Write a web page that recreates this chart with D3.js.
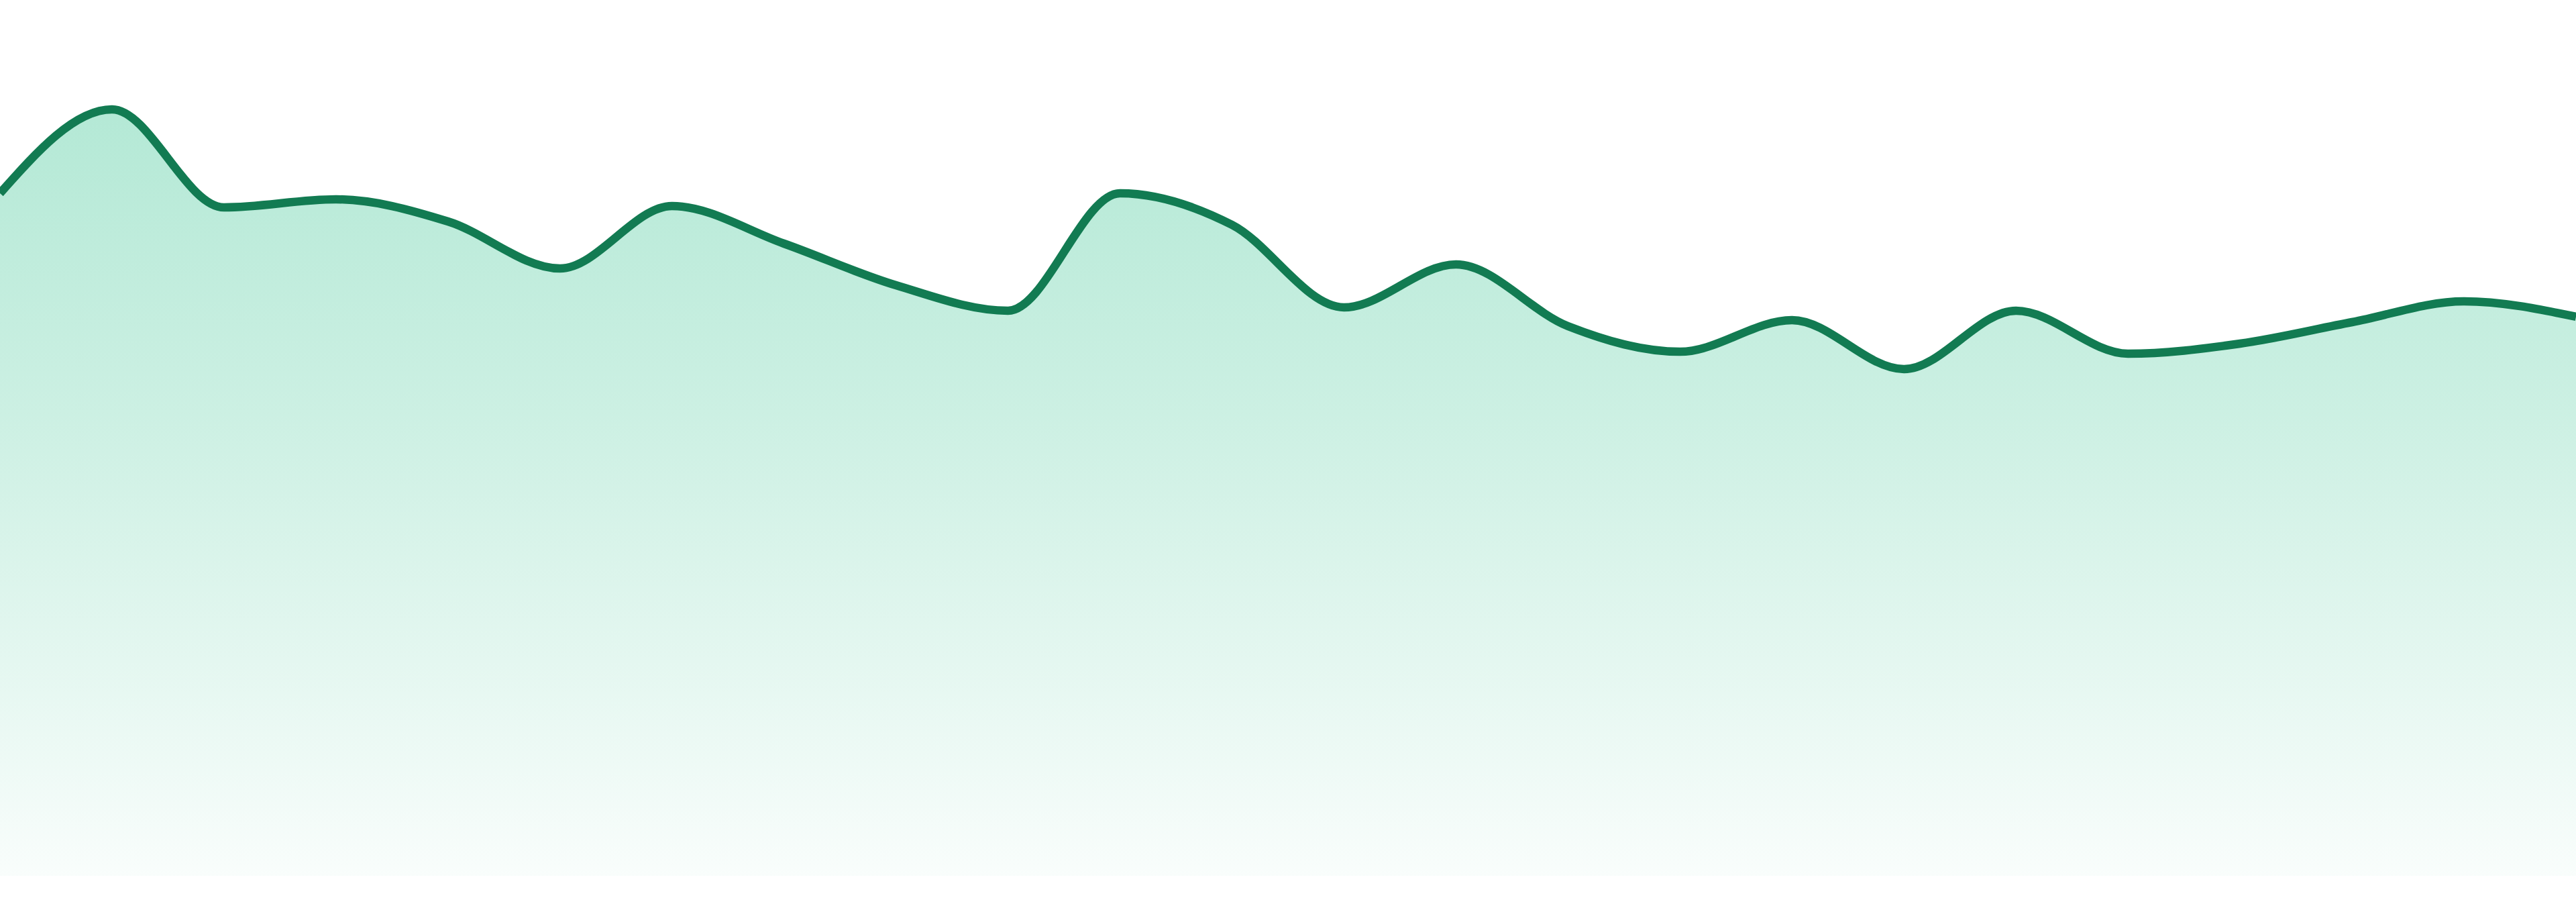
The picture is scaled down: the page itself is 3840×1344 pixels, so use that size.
<!DOCTYPE html>
<html>
<head>
<meta charset="utf-8">
<script src="https://cdn.jsdelivr.net/npm/d3@7"></script>
<style>
  html, body { margin: 0; padding: 0; background: #ffffff; }
  svg { display: block; }
</style>
</head>
<body>
<div id="chart"></div>
<script>
// Datos de la serie (24 puntos, sin ejes visibles)
const categories = d3.range(24);
const values = [
  101.7, 114.2, 99.6, 100.8, 97.5, 90.5, 99.8, 94.2, 88.0, 84.2, 101.7, 97.0,
  84.7, 91.1, 81.9, 78.1, 82.8, 75.5, 84.2, 77.8, 79.3, 82.5, 85.6, 83.3
];

const width = 3840;
const height = 1344;
const baseline = 1305;

const svg = d3.select('#chart').append('svg')
  .attr('width', width)
  .attr('height', height);

const x = d3.scaleLinear()
  .domain([0, categories.length - 1])
  .range([0, width]);

const y = d3.scaleLinear()
  .domain([0, 130.5])
  .range([baseline, 0]);

const data = categories.map((c, i) => ({ c, v: values[i] }));

// Degradado vertical del relleno
const grad = svg.append('defs').append('linearGradient')
  .attr('id', 'areaFill')
  .attr('gradientUnits', 'userSpaceOnUse')
  .attr('x1', 0).attr('x2', 0)
  .attr('y1', y(d3.max(values)))
  .attr('y2', baseline);
grad.append('stop').attr('offset', '0%').attr('stop-color', '#34c38f').attr('stop-opacity', 0.37);
grad.append('stop').attr('offset', '40%').attr('stop-color', '#34c38f').attr('stop-opacity', 0.25);
grad.append('stop').attr('offset', '100%').attr('stop-color', '#34c38f').attr('stop-opacity', 0.03);

const area = d3.area()
  .x(d => x(d.c))
  .y0(baseline)
  .y1(d => y(d.v))
  .curve(d3.curveMonotoneX);

const line = d3.line()
  .x(d => x(d.c))
  .y(d => y(d.v))
  .curve(d3.curveMonotoneX);

svg.append('path')
  .datum(data)
  .attr('d', area)
  .attr('fill', 'url(#areaFill)');

svg.append('path')
  .datum(data)
  .attr('d', line)
  .attr('fill', 'none')
  .attr('stroke', '#127b52')
  .attr('stroke-width', 12.5)
  .attr('stroke-linejoin', 'round');
</script>
</body>
</html>
